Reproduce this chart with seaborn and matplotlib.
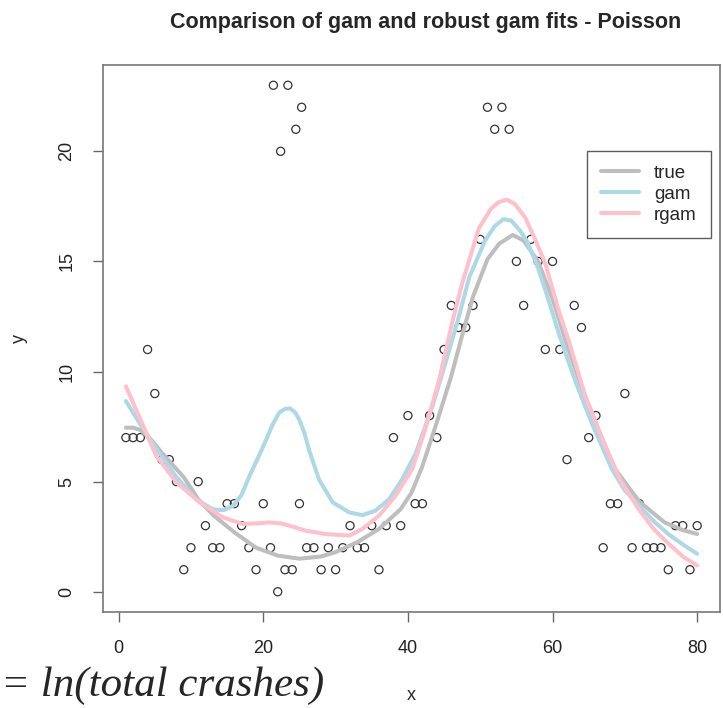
import numpy as np
import pandas as pd
import matplotlib
matplotlib.use("Agg")
import matplotlib.pyplot as plt
import seaborn as sns

# ---- data ----
pt_x = list(range(1, 81)) + [21.4, 22.4, 23.4, 24.5, 25.3]
pt_y = [7, 7, 7, 11, 9, 6, 6, 5, 1, 2,
        5, 3, 2, 2, 4, 4, 3, 2, 1, 4,
        2, 0, 1, 1, 4, 2, 2, 1, 2, 1,
        2, 3, 2, 2, 3, 1, 3, 7, 3, 8,
        4, 4, 8, 7, 11, 13, 12, 12, 13, 16,
        22, 21, 22, 21, 15, 13, 16, 15, 11, 15,
        11, 6, 13, 12, 7, 8, 2, 4, 4, 9,
        2, 4, 2, 2, 2, 1, 3, 3, 1, 3] + [23, 20, 23, 21, 22]

true_x = [1, 2, 3, 4.5, 6, 7.5, 9, 11, 13, 16, 19, 22, 25, 28, 30, 33, 36, 39, 40.5, 42, 44, 46, 47.3, 49,
          51, 52.6, 54.5, 56, 58, 60, 62, 64, 66.3, 68.6, 70.5, 72, 74, 75.5, 78, 80]
true_y = [7.45, 7.45, 7.35, 6.9, 6.3, 5.75, 5.2, 4.2, 3.5, 2.7, 2.0, 1.64, 1.5, 1.6, 1.8, 2.25, 2.85, 3.75, 4.5, 5.7, 7.7, 9.8, 11.4, 13.4,
          15.1, 15.8, 16.2, 15.95, 15.0, 13.3, 11.2, 9.3, 7.4, 5.6, 4.75, 4.1, 3.55, 3.15, 2.8, 2.62]

gam_x = [1, 3, 5, 8, 10.7, 13, 14.5, 15.8, 17, 18.1, 19.3, 20.4, 21.3, 22.2, 23, 23.7, 24.4, 25, 25.7, 26.3, 27.7,
         29.6, 31.9, 33.7, 35.5, 37.4, 39.2, 41.1, 43.4, 45.2, 46.8, 48.5, 50.7, 52, 53.2, 54.3, 55.5, 56.5, 58,
         59, 61, 63.1, 65.4, 68.2, 70, 72, 74, 76, 78, 80]
gam_y = [8.66, 7.6, 6.6, 5.2, 4.2, 3.75, 3.7, 3.9, 4.4, 5.26, 6.1, 6.9, 7.6, 8.13, 8.3, 8.33, 8.15, 7.8, 7.2, 6.47, 5.1,
         4.06, 3.6, 3.48, 3.68, 4.2, 5.1, 6.3, 8.43, 10.4, 12.2, 14.3, 15.97, 16.6, 16.92, 16.85, 16.4, 15.9, 14.7,
         13.7, 11.6, 9.6, 7.68, 5.57, 4.6, 3.9, 3.2, 2.62, 2.15, 1.72]

rgam_x = [1, 3, 5.2, 8, 11.2, 14.4, 17.1, 19, 20.8, 22.5, 23.6, 25.9, 28.6, 31.9, 33.7, 36, 38.3, 40.6, 42.4, 44.3, 46.1,
          47.5, 49.8, 51.5, 52.6, 53.7, 54.8, 56.2, 57.6, 59, 61, 62.2, 64.5, 67.3, 69.5, 72, 74, 75.5, 78, 80]
rgam_y = [9.33, 7.83, 6.17, 4.96, 4.06, 3.38, 3.08, 3.1, 3.15, 3.1, 3.0, 2.77, 2.62, 2.55, 2.85, 3.45, 4.36, 5.57, 7.38, 9.6, 12.2,
          14.0, 16.5, 17.4, 17.7, 17.8, 17.6, 17.0, 16.0, 14.9, 12.6, 11.45, 8.9, 6.6, 5.0, 3.7, 2.85, 2.35, 1.6, 1.19]

title = "Comparison of gam and robust gam fits - Poisson"
x_ticks = [0, 20, 40, 60, 80]
y_ticks = [0, 5, 10, 15, 20]
note = "= ln(total crashes)"

pts = pd.DataFrame({"x": pt_x, "y": pt_y})
curves = pd.concat([
    pd.DataFrame({"x": true_x, "y": true_y, "fit": "true"}),
    pd.DataFrame({"x": gam_x, "y": gam_y, "fit": "gam"}),
    pd.DataFrame({"x": rgam_x, "y": rgam_y, "fit": "rgam"}),
], ignore_index=True)

sns.set_style("white")
plt.rcParams["font.family"] = ["Liberation Sans", "DejaVu Sans"]

fig = plt.figure(figsize=(7.23, 7.08), dpi=100)
ax = fig.add_axes([0.1425, 0.1356, 0.8534, 0.7726])

sns.scatterplot(data=pts, x="x", y="y", ax=ax, marker="o", s=34,
                facecolor="none", edgecolor="#333333", linewidth=0.9, legend=False, zorder=2)
sns.lineplot(data=curves, x="x", y="y", hue="fit", ax=ax, sort=False,
             palette={"true": "#BEBEBE", "gam": "#ADD8E6", "rgam": "#FFC0CB"},
             linewidth=2.9, estimator=None, zorder=3)

ax.set_xlim(-2.16, 83.16)
ax.set_ylim(-0.92, 23.92)
ax.set_xticks(x_ticks)
ax.set_yticks(y_ticks)
ax.set_xticklabels([str(t) for t in x_ticks], fontsize=13, color="#222222")
ax.set_yticklabels([str(t) for t in y_ticks], fontsize=13, color="#222222", rotation=90, va="center")
ax.tick_params(axis="both", direction="out", length=7, width=1, color="#666666", pad=13, left=True, bottom=True)
for s in ax.spines.values():
    s.set_color("#777777")
    s.set_linewidth(1.2)

ax.set_xlabel("x", fontsize=13)
ax.set_ylabel("y", fontsize=13)
ax.xaxis.set_label_coords(0.5, -0.152)
ax.xaxis.label.set_va("center")
ax.yaxis.set_label_coords(-0.136, 0.5)
ax.yaxis.label.set_va("center")
ax.set_title(title, fontsize=15.5, fontweight="bold", x=0.5235, y=1.0786, pad=0, va="center")

leg = ax.legend(loc="upper right", bbox_to_anchor=(0.985, 0.843), borderaxespad=0,
                fontsize=13.5, frameon=True, fancybox=False, handlelength=2.0,
                handletextpad=0.8, borderpad=0.75, labelspacing=0.2)
leg.get_frame().set_edgecolor("#333333")
leg.get_frame().set_linewidth(1.0)
for line in leg.get_lines():
    line.set_linewidth(2.9)

fig.text(0.001, 0.017, note, fontsize=31, fontstyle="italic",
         family=["Liberation Serif", "DejaVu Serif"], ha="left", va="baseline")

fig.savefig("out.png", dpi=100)
